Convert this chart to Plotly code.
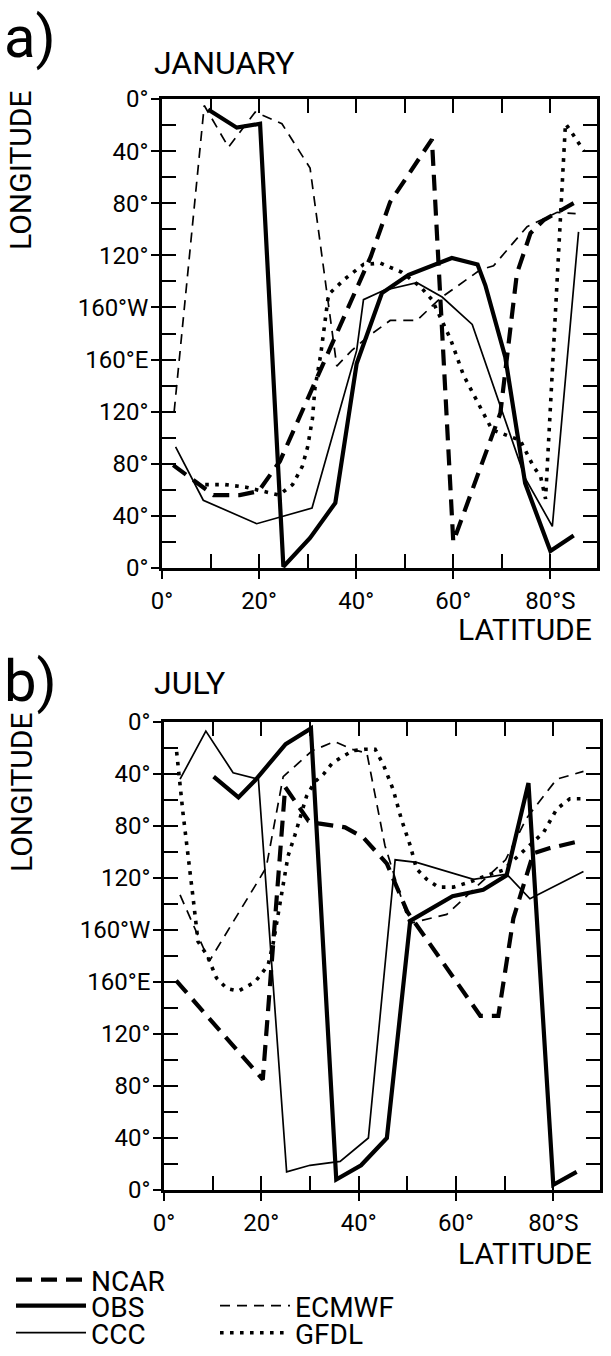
import plotly.graph_objects as go

W, H = 611, 1356
FONT = "Roboto"

# ---------------- DATA (latitude in deg S, longitude in deg W from 0 at top, 360 = 0 again) -------------
# JANUARY
jan_obs_lat = [9.5, 15.4, 20.2, 25, 30.5, 35.7, 40.1, 45.3, 50.8, 59.7, 65, 66.6, 70.7, 74.8, 80, 84.8]
jan_obs_lon = [8, 22, 19, 359, 337, 310, 203, 149, 135, 122, 127, 143, 198, 295, 347, 335]

jan_ncar_lat = [2.3, 7.5, 10.6, 16, 19.9, 24.3, 35.7, 43, 47, 55.6, 60, 69.7, 73.1, 75.9, 78.6, 86.2]
jan_ncar_lon = [281, 295, 304, 304, 301, 278, 182, 121, 79, 31, 340, 241, 134, 103, 93, 77]

jan_ccc_lat = [2.8, 8.5, 19.5, 30.9, 40.1, 41.5, 45.6, 52.5, 57.7, 63.9, 74.8, 80.4, 85.8]
jan_ccc_lon = [267, 308, 326, 314, 193, 154, 147, 141, 152, 173, 291, 328, 102]

jan_ecmwf_lat = [2.5, 8.7, 13.7, 19.2, 24.7, 30.5, 36, 39.1, 42.9, 47, 52.5, 57.3, 65.6, 68.3, 75.2, 81.4, 85.2]
jan_ecmwf_lon = [240, 5, 37, 10, 19, 53, 205, 193, 181, 170, 170, 153, 131, 128, 98, 87, 88]

jan_gfdl_lat = [8.9, 13, 17.3, 20.5, 24.1, 26.9, 28.9, 30, 31, 31.5, 32.7, 34.3, 37.7, 41.5, 45, 49.4,
                53.2, 55.6, 57.3, 59.4, 62.1, 63.5, 68, 73.8, 76.5, 78, 79, 83.1, 84.1, 86.9]
jan_gfdl_lon = [296, 296, 298, 301, 304, 296, 282, 267, 245, 222, 196, 150, 138, 127, 126, 133,
                144, 154, 167, 184, 212, 222, 254, 262, 282, 290, 307, 19, 24, 40]

# JULY
jul_obs_lat = [10.2, 15.3, 18.7, 25, 30.2, 35.4, 40.5, 45.8, 50.6, 59.3, 65.6, 70.4, 74.9, 80, 84.8]
jul_obs_lon = [42, 58, 45, 17, 5, 352, 341, 320, 153, 134, 129, 118, 47, 356, 346]

jul_ncar_lat = [2.5, 20.3, 24.9, 29.7, 31.7, 37.2, 41, 45.8, 50, 65, 68.7, 71.8, 75.9, 79.3, 86.2]
jul_ncar_lon = [199, 275, 50, 76, 78, 81, 89, 109, 146, 226, 226, 151, 101, 97, 91]

jul_ccc_lat = [3.3, 8.6, 14.2, 19.4, 25.2, 30, 36.2, 42, 47.5, 51.9, 63.6, 70.4, 75.2, 86.2]
jul_ccc_lon = [44, 7, 39, 44, 346, 341, 338, 320, 106, 108, 121, 117, 136, 115]

jul_ecmwf_lat = [3.3, 9.3, 21, 24.5, 30.5, 35.1, 38.6, 41.7, 45.4, 50.4, 58.1, 65.6, 70.2, 74.5, 80.7, 86.2]
jul_ecmwf_lon = [133, 184, 112, 42, 22, 15, 21, 24, 95, 155, 148, 122, 106, 74, 44, 38]

jul_gfdl_lat = [2.6, 3.9, 6, 7, 8.8, 10.8, 12.9, 15.3, 18.7, 21.4, 22.5, 23.6, 24.6, 25.5, 26.9, 28.3,
                29.3, 31, 32.8, 34.5, 36.5, 38.9, 41.3, 43.4, 45.1, 47.1, 48.8, 50.6, 51.9, 54, 56.4,
                59.5, 62.9, 66.3, 69.7, 72.5, 78, 80.7, 83.4, 86.9]
jul_gfdl_lon = [23, 70, 136, 169, 179, 197, 205, 207, 200, 187, 169, 144, 123, 103, 87, 69,
                57, 46, 40, 32, 27, 22, 21, 21, 33, 52, 75, 95, 113, 121, 127,
                127, 123, 118, 114, 104, 85, 67, 59, 59]

x_tickvals = [0, 10, 20, 30, 40, 50, 60, 70, 80]
x_ticktext = ["0°", "", "20°", "", "40°", "", "60°", "", "80°S"]
x_majorvals = [0, 20, 40, 60, 80]
y_tickvals = list(range(0, 361, 20))
y_ticktext = ["0°", "", "40°", "", "80°", "", "120°", "", "160°W", "",
              "160°E", "", "120°", "", "80°", "", "40°", "", "0°"]
y_majorvals = list(range(0, 361, 40))

# ---------------- STYLES ----------------
styles = {
    "NCAR": dict(width=4.2, dash="16px,9px"),
    "OBS": dict(width=4.2, dash="solid"),
    "CCC": dict(width=1.7, dash="solid"),
    "ECMWF": dict(width=1.7, dash="10px,7px"),
    "GFDL": dict(width=3.6, dash="3.6px,6.4px"),
}
legend_of = {"NCAR": "legend", "OBS": "legend2", "ECMWF": "legend2", "CCC": "legend3", "GFDL": "legend3"}

panels = {
    "a": dict(xa="x", ya="y", series={
        "NCAR": (jan_ncar_lat, jan_ncar_lon), "OBS": (jan_obs_lat, jan_obs_lon),
        "CCC": (jan_ccc_lat, jan_ccc_lon), "ECMWF": (jan_ecmwf_lat, jan_ecmwf_lon),
        "GFDL": (jan_gfdl_lat, jan_gfdl_lon)}),
    "b": dict(xa="x2", ya="y2", series={
        "NCAR": (jul_ncar_lat, jul_ncar_lon), "OBS": (jul_obs_lat, jul_obs_lon),
        "ECMWF": (jul_ecmwf_lat, jul_ecmwf_lon), "CCC": (jul_ccc_lat, jul_ccc_lon),
        "GFDL": (jul_gfdl_lat, jul_gfdl_lon)}),
}

fig = go.Figure()
for key, p in panels.items():
    for name, (lat, lon) in p["series"].items():
        fig.add_trace(go.Scatter(
            x=lat, y=lon, mode="lines", name=name,
            line=dict(color="black", **styles[name]),
            xaxis=p["xa"], yaxis=p["ya"],
            showlegend=(key == "b"), legend=legend_of[name],
            hoverinfo="skip"))

# invisible traces so that overlay axes (crossing major ticks) are drawn
for xa, ya in (("x3", "y3"), ("x4", "y4")):
    fig.add_trace(go.Scatter(x=[None], y=[None], xaxis=xa, yaxis=ya, showlegend=False, hoverinfo="skip"))


def px2x(p):
    return p / W


def px2y(p):
    return 1 - p / H


A_X = [px2x(162), px2x(597)]
A_Y = [px2y(568), px2y(99)]
B_X = [px2x(164), px2x(600)]
B_Y = [px2y(1190), px2y(722)]

XR = [0, 89.6]
YR = [360, 0]

tickfont = dict(family=FONT, size=24, color="black")


def main_x(domain, anchor):
    return dict(domain=domain, anchor=anchor, range=XR, tickmode="array", tickvals=x_tickvals,
                ticktext=x_ticktext, ticks="inside", ticklen=14, tickwidth=2, tickcolor="black",
                showline=True, linewidth=2.6, linecolor="black", mirror="ticks", automargin=False,
                showgrid=False, zeroline=False, tickfont=tickfont, ticklabelstandoff=9)


def main_y(domain, anchor):
    return dict(domain=domain, anchor=anchor, range=YR, tickmode="array", tickvals=y_tickvals,
                ticktext=y_ticktext, ticks="inside", ticklen=14, tickwidth=2, tickcolor="black",
                showline=True, linewidth=2.6, linecolor="black", mirror="ticks", automargin=False,
                showgrid=False, zeroline=False, tickfont=tickfont, ticklabelstandoff=6)


def over_x(over, anchor):
    return dict(overlaying=over, anchor=anchor, side="bottom", range=XR, tickmode="array",
                tickvals=x_majorvals, ticks="outside", ticklen=10, tickwidth=2, tickcolor="black",
                automargin=False,
                showticklabels=False, showline=False, showgrid=False, zeroline=False)


def over_y(over, anchor):
    return dict(overlaying=over, anchor=anchor, side="left", range=YR, tickmode="array",
                tickvals=y_majorvals, ticks="outside", ticklen=10, tickwidth=2, tickcolor="black",
                automargin=False,
                showticklabels=False, showline=False, showgrid=False, zeroline=False)


legend_common = dict(font=dict(family=FONT, size=28, color="black"), bgcolor="rgba(0,0,0,0)",
                     itemwidth=70, xanchor="left", yanchor="middle", tracegroupgap=0,
                     itemclick=False, itemdoubleclick=False)

fig.update_layout(
    template="none",
    width=W, height=H, margin=dict(l=0, r=0, t=0, b=0, autoexpand=False),
    paper_bgcolor="white", plot_bgcolor="white",
    xaxis=main_x(A_X, "y"), yaxis=main_y(A_Y, "x"),
    xaxis2=main_x(B_X, "y2"), yaxis2=main_y(B_Y, "x2"),
    xaxis3=over_x("x", "y"), yaxis3=over_y("y", "x"),
    xaxis4=over_x("x2", "y2"), yaxis4=over_y("y2", "x2"),
    legend=dict(**legend_common, orientation="h", x=px2x(11), y=px2y(1280)),
    legend2=dict(**legend_common, orientation="h", entrywidth=119, entrywidthmode="pixels",
                 x=px2x(11), y=px2y(1306)),
    legend3=dict(**legend_common, orientation="h", entrywidth=119, entrywidthmode="pixels",
                 x=px2x(11), y=px2y(1333)),
    showlegend=True,
)

ann_font = dict(family=FONT, color="black")
annotations = [
    dict(text="a)", x=px2x(2), y=px2y(37), xanchor="left", yanchor="middle", font=dict(size=58, **ann_font)),
    dict(text="JANUARY", x=px2x(152), y=px2y(63), xanchor="left", yanchor="middle", font=dict(size=32, **ann_font)),
    dict(text="LONGITUDE", x=px2x(21), y=px2y(170), xanchor="center", yanchor="middle", textangle=-90,
         font=dict(size=30, **ann_font)),
    dict(text="LATITUDE", x=px2x(594), y=px2y(630), xanchor="right", yanchor="middle", font=dict(size=30, **ann_font)),
    dict(text="b)", x=px2x(2), y=px2y(681), xanchor="left", yanchor="middle", font=dict(size=58, **ann_font)),
    dict(text="JULY", x=px2x(152), y=px2y(683), xanchor="left", yanchor="middle", font=dict(size=32, **ann_font)),
    dict(text="LONGITUDE", x=px2x(21), y=px2y(792), xanchor="center", yanchor="middle", textangle=-90,
         font=dict(size=30, **ann_font)),
    dict(text="LATITUDE", x=px2x(594), y=px2y(1253), xanchor="right", yanchor="middle", font=dict(size=30, **ann_font)),
]
for a in annotations:
    a.update(xref="paper", yref="paper", showarrow=False)
fig.update_layout(annotations=annotations)

fig.write_html("out.html", config={"displayModeBar": False},
               post_script="document.body.style.margin='0px';")
